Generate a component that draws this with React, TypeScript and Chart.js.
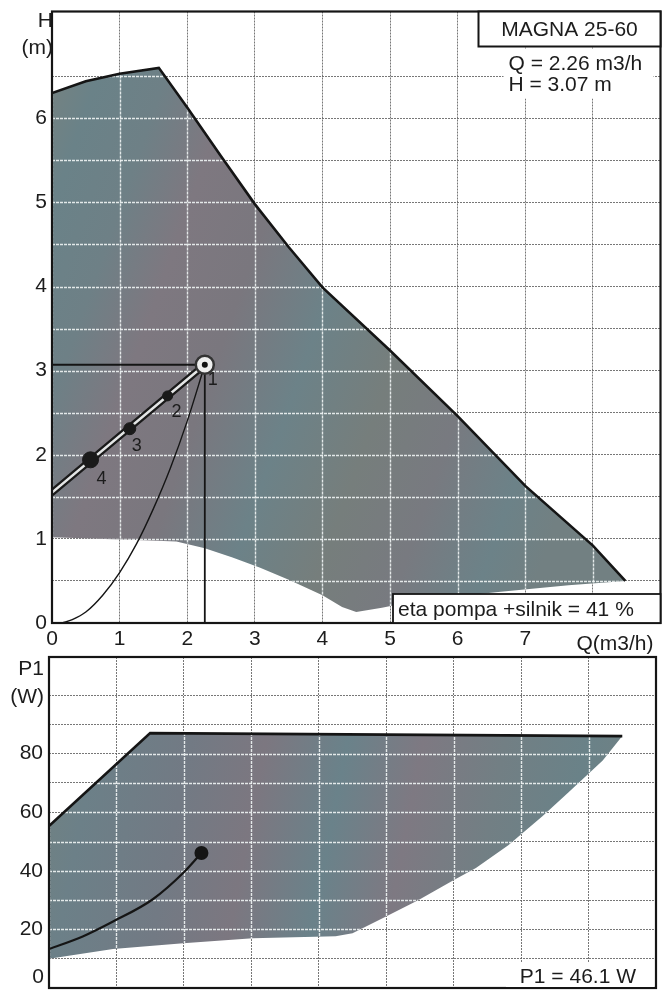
import { useEffect, useRef } from 'react';
import { Chart, registerables } from 'chart.js';

Chart.register(...registerables);

const FONT = "'Liberation Sans', Arial, Helvetica, sans-serif";

// ---------------- Upper chart: H (m) against Q (m3/h) ----------------
const Q_MAX = 9;
const H_MAX = 7.27;
const qLabelValues = [0, 1, 2, 3, 4, 5, 6, 7];
const hLabelValues = [0, 1, 2, 3, 4, 5, 6];

// upper (maximum) curve of the operating field
const maxQ = [0, 0.5, 1.0, 1.58, 2.0, 2.5, 3.0, 3.5, 4.0, 5.0, 6.0, 7.0, 8.0, 8.48];
const maxH = [6.3, 6.44, 6.53, 6.6, 6.13, 5.55, 4.98, 4.47, 3.99, 3.24, 2.46, 1.63, 0.92, 0.5];
// lower (minimum) edge of the operating field
const minQ = [0, 1.45, 1.84, 2.26, 2.67, 3.07, 3.51, 4.0, 4.29, 4.5, 4.88, 5.43, 6.6, 7.64, 8.48];
const minH = [1.02, 0.98, 0.97, 0.89, 0.78, 0.66, 0.51, 0.33, 0.19, 0.13, 0.18, 0.27, 0.37, 0.45, 0.5];
// proportional pressure control line
const ctrlQ = [0, 2.26];
const ctrlH = [1.55, 3.07];
// setting points 1..4 on the control line
const setLabels = ['1', '2', '3', '4'];
const setQ = [2.26, 1.71, 1.15, 0.57];
const setH = [3.07, 2.7, 2.31, 1.94];
// system curve
const sysQ = [0.15, 0.3, 0.5, 0.75, 1.0, 1.25, 1.5, 1.75, 2.0, 2.26];
const sysH = [0, 0.04, 0.13, 0.33, 0.6, 0.94, 1.36, 1.84, 2.4, 3.07];
// duty point
const dutyQ = 2.26;
const dutyH = 3.07;
const dutyP1 = 46.1;
const etaPercent = 41;
const pumpName = 'MAGNA 25-60';

// ---------------- Lower chart: P1 (W) against Q (m3/h) ----------------
const P_MAX = 113;
const pLabelValues = [20, 40, 60, 80];
const p1MaxQ = [0, 1.5, 8.5];
const p1MaxP = [55.3, 87, 86];
const p1MinQ = [0, 0.95, 1.99, 3.02, 4.25, 4.5, 4.99, 5.48, 5.99, 6.33, 6.81, 7.32, 7.7, 8.21, 8.5];
const p1MinP = [10, 13.3, 15.3, 17, 17.7, 18.7, 24.3, 30, 36.7, 41, 48.7, 58.7, 66.7, 77.7, 86];
const p1LineQ = [0, 0.5, 0.95, 1.54, 2.0, 2.26];
const p1LineP = [13.3, 17.6, 22.7, 30.3, 39.5, 46.1];

const pts = (xs: number[], ys: number[]) => xs.map((x, i) => ({ x, y: ys[i] }));

function makeFill(stops: [number, string][]) {
  return (c: any) => {
    const chart = c.chart;
    const a = chart.chartArea;
    if (!a) return 'rgb(114,126,128)';
    const g = chart.ctx.createLinearGradient(a.left, a.top, a.right, a.top + (a.bottom - a.top) * 0.35);
    stops.forEach(([o, col]) => g.addColorStop(o, col));
    return g;
  };
}

const topStops: [number, string][] = [
  [0.0, 'rgb(122,130,126)'],
  [0.1, 'rgb(106,130,136)'],
  [0.2, 'rgb(110,128,134)'],
  [0.3, 'rgb(126,120,128)'],
  [0.42, 'rgb(122,119,126)'],
  [0.55, 'rgb(108,130,136)'],
  [0.68, 'rgb(118,126,124)'],
  [0.8, 'rgb(120,122,128)'],
  [0.92, 'rgb(108,130,136)'],
  [1.0, 'rgb(114,128,130)'],
];
const botStops: [number, string][] = [
  [0.0, 'rgb(114,130,128)'],
  [0.1, 'rgb(108,128,136)'],
  [0.25, 'rgb(114,122,132)'],
  [0.37, 'rgb(124,119,128)'],
  [0.5, 'rgb(106,130,138)'],
  [0.62, 'rgb(126,121,130)'],
  [0.75, 'rgb(114,127,132)'],
  [0.88, 'rgb(106,130,136)'],
  [1.0, 'rgb(114,128,130)'],
];

// light grid lines drawn over the shaded field
function drawFieldGrid(chart: any, fillIdx: number, lowIdx: number) {
  const up = chart.getDatasetMeta(fillIdx).data;
  const lo = chart.getDatasetMeta(lowIdx).data;
  if (!up || !lo || !up.length || !lo.length) return;
  const ctx = chart.ctx;
  const a = chart.chartArea;
  ctx.save();
  ctx.beginPath();
  up.forEach((p: any, i: number) => (i === 0 ? ctx.moveTo(p.x, p.y) : ctx.lineTo(p.x, p.y)));
  for (let i = lo.length - 1; i >= 0; i--) ctx.lineTo(lo[i].x, lo[i].y);
  ctx.closePath();
  ctx.clip();
  ctx.strokeStyle = 'rgba(240,244,244,0.9)';
  ctx.lineWidth = 1.4;
  ctx.setLineDash([3, 1]);
  const xs = chart.scales.x;
  const ys = chart.scales.y;
  xs.ticks.forEach((t: any) => {
    const px = Math.round(xs.getPixelForValue(t.value)) + 0.5;
    ctx.beginPath();
    ctx.moveTo(px, a.top);
    ctx.lineTo(px, a.bottom);
    ctx.stroke();
  });
  ys.ticks.forEach((t: any) => {
    const py = Math.round(ys.getPixelForValue(t.value)) + 0.5;
    ctx.beginPath();
    ctx.moveTo(a.left, py);
    ctx.lineTo(a.right, py);
    ctx.stroke();
  });
  ctx.restore();
}

function gridOverFill(fillIdx: number, lowIdx: number, nextIdx: number) {
  let done = false;
  return {
    id: 'gridOverFill',
    beforeDraw() {
      done = false;
    },
    afterDatasetDraw(chart: any, args: any) {
      const idx = args && args.meta ? args.meta.index : args.index;
      if (idx !== fillIdx || done) return;
      drawFieldGrid(chart, fillIdx, lowIdx);
      done = true;
    },
    beforeDatasetDraw(chart: any, args: any) {
      const idx = args && args.meta ? args.meta.index : args.index;
      if (idx !== nextIdx || done) return;
      drawFieldGrid(chart, fillIdx, lowIdx);
      done = true;
    },
  };
}

const gridStyle = {
  color: 'rgba(95,95,95,0.85)',
  lineWidth: 1,
  drawTicks: false,
};

const tickFont = { family: FONT, size: 21 };

const noPad = (s: any) => {
  s.paddingTop = 0;
  s.paddingBottom = 0;
  s.paddingLeft = 0;
  s.paddingRight = 0;
};

// label offsets for setting points (pixels)
const setLabelDx = [8, 9, 7, 11];
const setLabelDy = [15, 16, 17, 19];

const topDecor = {
  id: 'topDecor',
  afterDatasetsDraw(chart: any) {
    const { ctx, chartArea: a, scales } = chart;
    const x = scales.x;
    const y = scales.y;
    ctx.save();
    ctx.setLineDash([]);
    ctx.strokeStyle = '#151515';
    ctx.lineWidth = 2.2;
    ctx.strokeRect(a.left, a.top, a.right - a.left, a.bottom - a.top);

    ctx.fillStyle = '#1c1c1c';
    ctx.font = `18px ${FONT}`;
    ctx.textAlign = 'center';
    ctx.textBaseline = 'middle';
    setLabels.forEach((t, i) => {
      ctx.fillText(t, x.getPixelForValue(setQ[i]) + setLabelDx[i], y.getPixelForValue(setH[i]) + setLabelDy[i]);
    });

    ctx.font = `21px ${FONT}`;
    ctx.textAlign = 'right';
    ctx.fillText('H', a.left + 1, a.top + 10);
    ctx.fillText('(m)', a.left + 1, a.top + 37);
    ctx.fillText('Q(m3/h)', a.right - 7, a.bottom + 21);

    // name box
    const bw = 182;
    ctx.fillStyle = '#ffffff';
    ctx.fillRect(a.right - bw, a.top, bw, 35);
    ctx.strokeStyle = '#151515';
    ctx.lineWidth = 2;
    ctx.strokeRect(a.right - bw, a.top, bw, 35);
    ctx.fillStyle = '#1c1c1c';
    ctx.textAlign = 'center';
    ctx.fillText(pumpName, a.right - bw / 2, a.top + 19);

    // duty values
    ctx.fillStyle = '#ffffff';
    ctx.fillRect(a.right - 157, a.top + 37, 150, 50);
    ctx.fillStyle = '#1c1c1c';
    ctx.textAlign = 'left';
    ctx.fillText(`Q = ${dutyQ.toFixed(2)} m3/h`, a.right - 152, a.top + 53);
    ctx.fillText(`H = ${dutyH.toFixed(2)} m`, a.right - 152, a.top + 74);

    // efficiency box
    const ex = a.left + 341;
    ctx.fillStyle = '#ffffff';
    ctx.fillRect(ex, a.bottom - 29, a.right - ex, 29);
    ctx.strokeStyle = '#151515';
    ctx.lineWidth = 1.8;
    ctx.strokeRect(ex, a.bottom - 29, a.right - ex, 29);
    ctx.fillStyle = '#1c1c1c';
    ctx.fillText(`eta pompa +silnik = ${etaPercent} %`, ex + 5, a.bottom - 13);
    ctx.restore();
  },
};

const botDecor = {
  id: 'botDecor',
  afterDatasetsDraw(chart: any) {
    const { ctx, chartArea: a } = chart;
    ctx.save();
    ctx.setLineDash([]);
    ctx.strokeStyle = '#151515';
    ctx.lineWidth = 2.2;
    ctx.strokeRect(a.left, a.top, a.right - a.left, a.bottom - a.top);

    ctx.fillStyle = '#1c1c1c';
    ctx.font = `21px ${FONT}`;
    ctx.textAlign = 'right';
    ctx.textBaseline = 'middle';
    ctx.fillText('P1', a.left - 5, a.top + 12);
    ctx.fillText('(W)', a.left - 5, a.top + 40);
    ctx.fillText('0', a.left - 5, a.bottom - 11);

    ctx.fillStyle = '#ffffff';
    ctx.fillRect(a.right - 150, a.bottom - 25, 148, 24);
    ctx.fillStyle = '#1c1c1c';
    ctx.fillText(`P1 = ${dutyP1.toFixed(1)} W`, a.right - 20, a.bottom - 11);
    ctx.restore();
  },
};

function topConfig(): any {
  return {
    type: 'line',
    data: {
      datasets: [
        { label: 'min', data: pts(minQ, minH), borderColor: 'transparent', borderWidth: 0, fill: false, order: 100 },
        {
          label: 'field',
          data: pts(maxQ, maxH),
          borderColor: 'transparent',
          borderWidth: 0,
          fill: '-1',
          backgroundColor: makeFill(topStops),
          order: 90,
        },
        { label: 'max', data: pts(maxQ, maxH), borderColor: '#151515', borderWidth: 2.6, fill: false, order: 50 },
        {
          label: 'system',
          data: pts(sysQ, sysH),
          borderColor: '#151515',
          borderWidth: 1.4,
          cubicInterpolationMode: 'monotone',
          fill: false,
          order: 40,
        },
        { label: 'guideH', data: [{ x: 0, y: dutyH }, { x: dutyQ, y: dutyH }], borderColor: '#151515', borderWidth: 1.8, fill: false, order: 35 },
        { label: 'guideQ', data: [{ x: dutyQ, y: dutyH }, { x: dutyQ, y: 0 }], borderColor: '#151515', borderWidth: 1.8, fill: false, order: 35 },
        { label: 'ctrlOuter', data: pts(ctrlQ, ctrlH), borderColor: '#1a1a1a', borderWidth: 7, borderCapStyle: 'round', fill: false, order: 30 },
        { label: 'ctrlInner', data: pts(ctrlQ, ctrlH), borderColor: '#e4e6e6', borderWidth: 2.5, borderCapStyle: 'round', fill: false, order: 29 },
        {
          label: 'settings',
          data: pts(setQ, setH),
          showLine: false,
          pointRadius: [9, 5, 6, 8],
          pointBackgroundColor: ['#eeeeee', '#1a1a1a', '#1a1a1a', '#1a1a1a'],
          pointBorderColor: ['#333333', '#1a1a1a', '#1a1a1a', '#1a1a1a'],
          pointBorderWidth: [2.5, 1, 1, 1],
          order: 20,
        },
        {
          label: 'duty',
          data: [{ x: dutyQ, y: dutyH }],
          showLine: false,
          pointRadius: 3,
          pointBackgroundColor: '#111111',
          pointBorderWidth: 0,
          order: 10,
        },
      ],
    },
    options: {
      responsive: false,
      animation: false,
      events: [],
      layout: { padding: { top: 10, right: 10, left: 0, bottom: 0 } },
      elements: { point: { radius: 0 }, line: { tension: 0 } },
      plugins: { legend: { display: false }, tooltip: { enabled: false } },
      scales: {
        x: {
          type: 'linear',
          min: 0,
          max: Q_MAX,
          grid: gridStyle,
          border: { display: false, dash: [2, 1] },
          ticks: {
            stepSize: 1,
            autoSkip: false,
            maxRotation: 0,
            padding: 4,
            color: '#1c1c1c',
            font: tickFont,
            callback: (v: number) => (qLabelValues.includes(v) ? String(v) : ''),
          },
          afterFit: (s: any) => {
            s.height = 37;
            noPad(s);
          },
        },
        y: {
          type: 'linear',
          min: 0,
          max: H_MAX,
          grid: gridStyle,
          border: { display: false, dash: [2, 1] },
          ticks: {
            stepSize: 0.5,
            autoSkip: false,
            padding: 5,
            color: '#1c1c1c',
            font: tickFont,
            callback: (v: number) => (hLabelValues.includes(v) ? String(v) : ''),
          },
          afterFit: (s: any) => {
            s.width = 52;
            noPad(s);
          },
        },
      },
    },
    plugins: [gridOverFill(1, 0, 2), topDecor],
  };
}

function botConfig(): any {
  return {
    type: 'line',
    data: {
      datasets: [
        { label: 'min', data: pts(p1MinQ, p1MinP), borderColor: 'transparent', borderWidth: 0, fill: false, order: 100 },
        {
          label: 'field',
          data: pts(p1MaxQ, p1MaxP),
          borderColor: 'transparent',
          borderWidth: 0,
          fill: '-1',
          backgroundColor: makeFill(botStops),
          order: 90,
        },
        { label: 'max', data: pts(p1MaxQ, p1MaxP), borderColor: '#151515', borderWidth: 2.6, fill: false, order: 50 },
        {
          label: 'p1',
          data: pts(p1LineQ, p1LineP),
          borderColor: '#151515',
          borderWidth: 2.2,
          cubicInterpolationMode: 'monotone',
          fill: false,
          order: 40,
        },
        {
          label: 'duty',
          data: [{ x: dutyQ, y: dutyP1 }],
          showLine: false,
          pointRadius: 7,
          pointBackgroundColor: '#151515',
          pointBorderWidth: 0,
          order: 10,
        },
      ],
    },
    options: {
      responsive: false,
      animation: false,
      events: [],
      layout: { padding: { top: 3, right: 16, left: 0, bottom: 2 } },
      elements: { point: { radius: 0 }, line: { tension: 0 } },
      plugins: { legend: { display: false }, tooltip: { enabled: false } },
      scales: {
        x: {
          type: 'linear',
          min: 0,
          max: Q_MAX,
          grid: gridStyle,
          border: { display: false, dash: [2, 1] },
          ticks: { stepSize: 1, display: false },
          afterFit: (s: any) => {
            s.height = 0;
            noPad(s);
          },
        },
        y: {
          type: 'linear',
          min: 0,
          max: P_MAX,
          grid: gridStyle,
          border: { display: false, dash: [2, 1] },
          ticks: {
            stepSize: 10,
            autoSkip: false,
            padding: 6,
            color: '#1c1c1c',
            font: tickFont,
            callback: (v: number) => (pLabelValues.includes(v) ? String(v) : ''),
          },
          afterFit: (s: any) => {
            s.width = 49;
            noPad(s);
          },
        },
      },
    },
    plugins: [gridOverFill(1, 0, 2), botDecor],
  };
}

export default function App() {
  const topRef = useRef<HTMLCanvasElement>(null);
  const botRef = useRef<HTMLCanvasElement>(null);
  useEffect(() => {
    const top = new Chart(topRef.current as HTMLCanvasElement, topConfig());
    const bot = new Chart(botRef.current as HTMLCanvasElement, botConfig());
    return () => {
      top.destroy();
      bot.destroy();
    };
  }, []);
  return (
    <div style={{ position: 'absolute', left: 0, top: 0, width: 672, height: 995, background: '#ffffff' }}>
      <canvas ref={topRef} width={672} height={660} style={{ position: 'absolute', left: 0, top: 0 }} />
      <canvas ref={botRef} width={672} height={345} style={{ position: 'absolute', left: 0, top: 650 }} />
    </div>
  );
}
